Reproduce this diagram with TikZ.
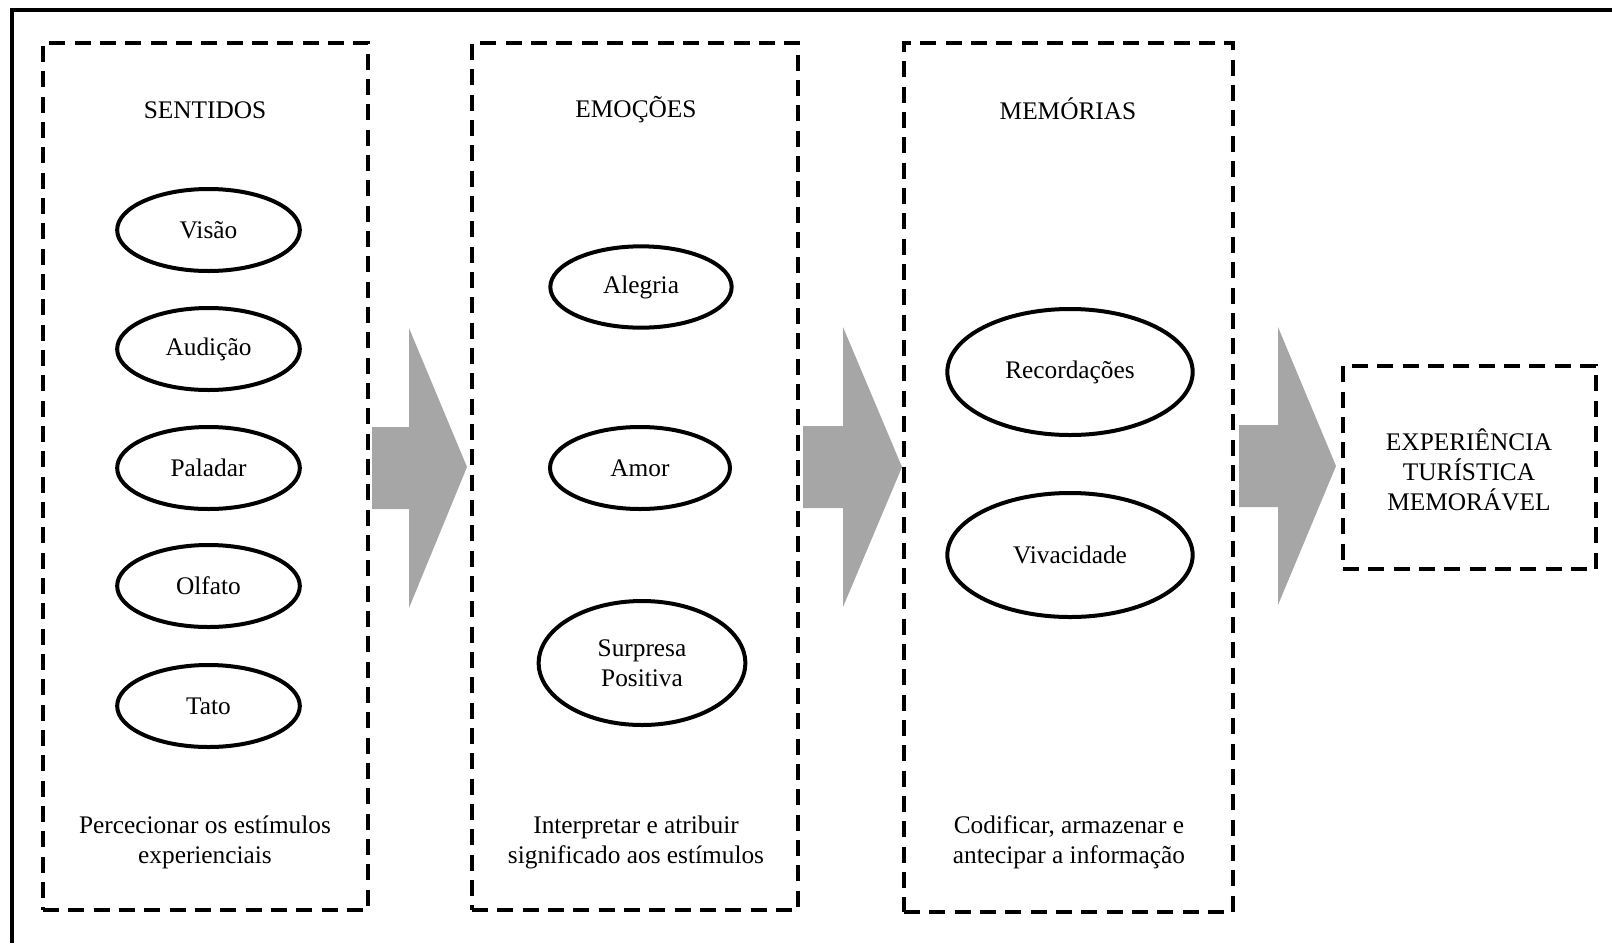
\documentclass[tikz,border=0pt]{standalone}
\usepackage{fontspec}
\setmainfont{Liberation Serif}
\usetikzlibrary{shapes.geometric}
\definecolor{arrowgrey}{HTML}{A6A6A6}
\tikzset{
  dbox/.style={draw, line width=3pt, dash pattern=on 12pt off 7pt, rectangle, inner sep=0pt},
  oval/.style={draw, line width=3pt, ellipse, inner sep=0pt, align=center},
  sense/.style={oval, minimum width=137pt, minimum height=61.5pt},
  lbl/.style={align=center, inner sep=0pt},
  blockarrow/.style={fill=arrowgrey, draw=none}
}
\begin{document}
\begin{tikzpicture}[x=0.75pt,y=-0.75pt,font=\fontsize{19}{22.5}\selectfont]
\useasboundingbox (0,0) rectangle (1612,943);
% outer frame (only top and left visible)
\draw[line width=3pt] (12,943) -- (12,10) -- (1612,10);

% boxes
\node[dbox, minimum width=243.75pt, minimum height=650.25pt] (b1) at (205.5,476.5) {};
\node[dbox, minimum width=244.5pt, minimum height=650.25pt] (b2) at (635,476.5) {};
\node[dbox, minimum width=246.75pt, minimum height=651.75pt] (b3) at (1068.5,477.5) {};
\node[dbox, minimum width=189.75pt, minimum height=152.25pt] (b4) at (1469.5,467.5) {};

% titles
\node[lbl] (t1) at (205,110) {SENTIDOS};
\node[lbl] (t2) at (636,110) {EMOÇÕES};
\node[lbl] (t3) at (1068,109) {MEMÓRIAS};

% sentidos
\node[sense] (visao) at (208.5,230) {Visão};
\node[sense] (audicao) at (208.5,349) {Audição};
\node[sense] (paladar) at (208.5,468) {Paladar};
\node[sense] (olfato) at (208.5,586) {Olfato};
\node[sense] (tato) at (208.5,706) {Tato};

% emocoes
\node[oval, minimum width=136pt, minimum height=61pt] (alegria) at (641,287) {Alegria};
\node[oval, minimum width=135pt, minimum height=61.5pt] (amor) at (640,468) {Amor};
\node[oval, minimum width=155pt, minimum height=93pt] (surpresa) at (642,663) {Surpresa\\Positiva};

% memorias
\node[oval, minimum width=184pt, minimum height=94.5pt] (recordacoes) at (1070,372) {Recordações};
\node[oval, minimum width=184pt, minimum height=93pt] (vivacidade) at (1070,555) {Vivacidade};

% bottom texts
\node[lbl] (d1) at (205,842) {Percecionar os estímulos\\experienciais};
\node[lbl] (d2) at (636,842) {Interpretar e atribuir\\significado aos estímulos};
\node[lbl] (d3) at (1069,842) {Codificar, armazenar e\\antecipar a informação};

% final box text
\node[lbl] (final) at (1469,470) {EXPERIÊNCIA\\TURÍSTICA\\MEMORÁVEL};

% block arrows
\fill[blockarrow] (372,427) -- (409,427) -- (409,328) -- (467,467) -- (409,608) -- (409,509) -- (372,509) -- cycle;
\fill[blockarrow] (803,426) -- (843,426) -- (843,327) -- (902,467) -- (843,607) -- (843,508) -- (803,508) -- cycle;
\fill[blockarrow] (1239,425) -- (1278,425) -- (1278,327) -- (1336,466) -- (1278,605) -- (1278,507) -- (1239,507) -- cycle;
\end{tikzpicture}
\end{document}
